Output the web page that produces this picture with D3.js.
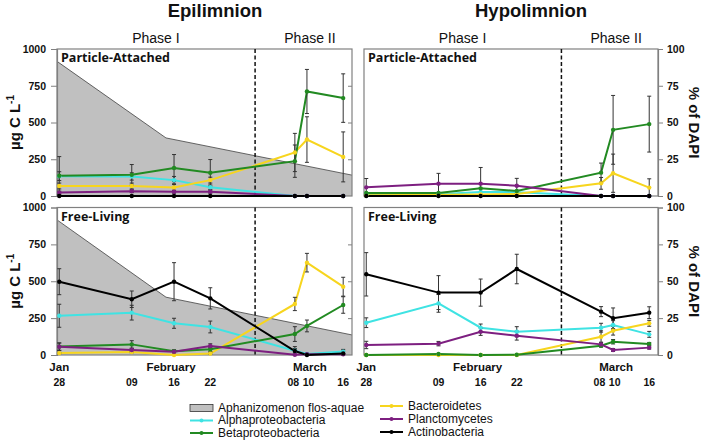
<!DOCTYPE html>
<html>
<head>
<meta charset="utf-8">
<script src="https://cdn.jsdelivr.net/npm/d3@7/dist/d3.min.js"></script>
<style>
  html, body { margin: 0; padding: 0; background: #fff; }
  svg { display: block; }
</style>
</head>
<body>
<script>
// ---------------- DATA ----------------
const dates = ["2009-01-28", "2009-02-09", "2009-02-16", "2009-02-22", "2009-03-08", "2009-03-10", "2009-03-16"];
const dayLabels = ["28", "09", "16", "22", "08", "10", "16"];
const monthLabels = ["Jan", "February", "March"];
const monthAnchors = ["2009-01-28", "2009-02-15T12:00", "2009-03-10T12:00"];
const phaseBoundary = "2009-03-01T10:00";
const phaseLabels = ["Phase I", "Phase II"];
const panelTitles = ["Epilimnion", "Hypolimnion"];
const fractionLabels = ["Particle-Attached", "Free-Living"];
const seriesNames = ["Alphaproteobacteria", "Betaproteobacteria", "Bacteroidetes", "Planctomycetes", "Actinobacteria"];
const areaName = "Aphanizomenon flos-aquae";
const leftTicks = [0, 250, 500, 750, 1000];
const rightTicks = [0, 25, 50, 75, 100];

// Aphanizomenon flos-aquae biomass (µg C L-1), epilimnion
const aphanDates = ["2009-01-27T15:00", "2009-02-14T16:00", "2009-03-17T11:00"];
const aphanPA = [916, 395, 142];
const aphanFL = [916, 392, 136];

// Epilimnion, particle-attached (µg C L-1)
const epiPA_alpha  = [135, 133, 108, 60, 0, 0, 0];
const epiPA_beta   = [138, 144, 190, 158, 237, 711, 666];
const epiPA_bact   = [68, 68, 58, 108, 296, 384, 266];
const epiPA_planc  = [23, 33, 29, 29, 0, 0, 0];
const epiPA_actino = [0, 0, 0, 0, 0, 0, 0];
const epiPA_alphaErr  = [30, 25, 25, 15, 0, 0, 0];
const epiPA_betaErr   = [130, 70, 92, 90, 110, 150, 165];
const epiPA_bactErr   = [20, 20, 20, 20, 130, 155, 170];
const epiPA_plancErr  = [10, 10, 10, 10, 0, 0, 0];
const epiPA_actinoErr = [0, 0, 0, 0, 0, 0, 0];

// Epilimnion, free-living (µg C L-1)
const epiFL_alpha  = [266, 287, 215, 190, 29, 7, 23];
const epiFL_beta   = [57, 72, 25, 39, 142, 197, 339];
const epiFL_bact   = [13, 20, 0, 10, 346, 626, 463];
const epiFL_planc  = [56, 34, 22, 61, 2, 5, 5];
const epiFL_actino = [497, 378, 497, 384, 27, 0, 11];
const epiFL_alphaErr  = [78, 50, 34, 40, 15, 5, 15];
const epiFL_betaErr   = [25, 25, 10, 15, 50, 40, 56];
const epiFL_bactErr   = [5, 5, 0, 5, 45, 63, 64];
const epiFL_plancErr  = [25, 10, 10, 15, 0, 0, 0];
const epiFL_actinoErr = [88, 56, 129, 72, 30, 10, 15];

// Hypolimnion, particle-attached (% of DAPI)
const hypPA_alpha  = [1.2, 1.2, 2.8, 2.6, 0, 0, 0];
const hypPA_beta   = [2, 2, 5.2, 3.4, 15.9, 45, 48.9];
const hypPA_bact   = [0.5, 0.8, 1, 1.4, 8.6, 15.5, 5.7];
const hypPA_planc  = [5.9, 8.4, 8.4, 7, 0, 0, 0];
const hypPA_actino = [0, 0, 0, 0, 0, 0, 0];
const hypPA_alphaErr  = [0, 0, 0, 0, 0, 0, 0];
const hypPA_betaErr   = [0, 0, 0, 0, 6.5, 23.4, 19];
const hypPA_bactErr   = [0, 0, 0, 0, 4, 13, 6];
const hypPA_plancErr  = [6, 7, 11, 5, 0, 0, 0];
const hypPA_actinoErr = [0, 0, 0, 0, 0, 0, 0];

// Hypolimnion, free-living (% of DAPI)
const hypFL_alpha  = [21.9, 35, 18.5, 15.8, 18.5, 20.3, 14];
const hypFL_beta   = [0, 0.7, 0, 0.2, 6.3, 9, 7.5];
const hypFL_bact   = [0, 0, 0, 0, 12.4, 16.5, 21.5];
const hypFL_planc  = [6.8, 7.7, 15.8, 13.1, 7.2, 3.4, 5];
const hypFL_actino = [54.7, 42.3, 42.3, 58.3, 29.4, 24.9, 28.7];
const hypFL_alphaErr  = [3.3, 6, 2.5, 3.4, 3, 3, 2];
const hypFL_betaErr   = [0, 0, 0, 0, 1, 1.5, 1];
const hypFL_bactErr   = [0, 0, 0, 0, 4, 3, 2];
const hypFL_plancErr  = [2.5, 1.5, 2.5, 3, 1.5, 1, 1];
const hypFL_actinoErr = [14.7, 11.5, 9.2, 10, 3.4, 7, 4];

// ---------------- STYLE ----------------
const colors = ["#3fe3e3", "#228a22", "#f7d51e", "#7d1f80", "#000000"];
const W = 705, H = 442;
const frameColor = "#808080";
const boldFont = "'Liberation Sans', Arial, sans-serif";

const parse = s => s.length > 10 ? d3.utcParse("%Y-%m-%dT%H:%M")(s) : d3.utcParse("%Y-%m-%d")(s);
const dateObjs = dates.map(parse);
const xDomain = [new Date(Date.UTC(2009, 0, 27, 15)), new Date(Date.UTC(2009, 2, 17, 11))];

const cols = [{x0: 57, x1: 352}, {x0: 364, x1: 658}];
const rows = [{y0: 49, y1: 196}, {y0: 207.5, y1: 355}];

const panels = [
  {c: 0, r: 0, max: 1000, aphan: aphanPA,
   vals: [epiPA_alpha, epiPA_beta, epiPA_bact, epiPA_planc, epiPA_actino],
   errs: [epiPA_alphaErr, epiPA_betaErr, epiPA_bactErr, epiPA_plancErr, epiPA_actinoErr]},
  {c: 0, r: 1, max: 1000, aphan: aphanFL,
   vals: [epiFL_alpha, epiFL_beta, epiFL_bact, epiFL_planc, epiFL_actino],
   errs: [epiFL_alphaErr, epiFL_betaErr, epiFL_bactErr, epiFL_plancErr, epiFL_actinoErr]},
  {c: 1, r: 0, max: 100, aphan: null,
   vals: [hypPA_alpha, hypPA_beta, hypPA_bact, hypPA_planc, hypPA_actino],
   errs: [hypPA_alphaErr, hypPA_betaErr, hypPA_bactErr, hypPA_plancErr, hypPA_actinoErr]},
  {c: 1, r: 1, max: 100, aphan: null,
   vals: [hypFL_alpha, hypFL_beta, hypFL_bact, hypFL_planc, hypFL_actino],
   errs: [hypFL_alphaErr, hypFL_betaErr, hypFL_bactErr, hypFL_plancErr, hypFL_actinoErr]}
];

const svg = d3.select("body").append("svg").attr("width", W).attr("height", H)
  .style("font-family", boldFont);

const drawOrder = [0, 2, 1, 3, 4];

panels.forEach((p, pi) => {
  const col = cols[p.c], row = rows[p.r];
  const x = d3.scaleUtc().domain(xDomain).range([col.x0, col.x1]);
  const y = d3.scaleLinear().domain([0, p.max]).range([row.y1, row.y0]);
  const g = svg.append("g");
  const clipId = "clip" + pi;
  g.append("clipPath").attr("id", clipId).append("rect")
    .attr("x", col.x0).attr("y", row.y0 - 2).attr("width", col.x1 - col.x0).attr("height", row.y1 - row.y0 + 6);

  if (p.aphan) {
    const ad = aphanDates.map((d, i) => ({d: parse(d), v: p.aphan[i]}));
    g.append("path").datum(ad)
      .attr("clip-path", `url(#${clipId})`)
      .attr("d", d3.area().x(d => x(d.d)).y0(y(0)).y1(d => y(d.v)))
      .attr("fill", "#c0c0c0").attr("stroke", "none");
    g.append("path").datum(ad)
      .attr("clip-path", `url(#${clipId})`)
      .attr("d", d3.line().x(d => x(d.d)).y(d => y(d.v)))
      .attr("fill", "none").attr("stroke", "#404040").attr("stroke-width", 0.8);
  }

  // frame
  g.append("rect").attr("x", col.x0).attr("y", row.y0)
    .attr("width", col.x1 - col.x0).attr("height", row.y1 - row.y0)
    .attr("fill", "none").attr("stroke", frameColor).attr("stroke-width", 1.2);

  // phase boundary
  const bx = x(parse(phaseBoundary));
  g.append("line").attr("x1", bx).attr("x2", bx).attr("y1", row.y0).attr("y2", row.y1)
    .attr("stroke", "#111").attr("stroke-width", 1.5).attr("stroke-dasharray", "4,2.5");

  // axes
  if (p.c === 0) {
    const ax = g.append("g").attr("transform", `translate(${col.x0},0)`)
      .call(d3.axisLeft(y).tickValues(leftTicks).tickSize(6).tickPadding(5).tickFormat(d3.format("d")));
    ax.select(".domain").attr("stroke", frameColor).attr("stroke-width", 1.2);
    ax.selectAll(".tick line").attr("stroke", frameColor);
    ax.selectAll("text").attr("font-size", 10.5).attr("font-weight", "bold").attr("font-family", boldFont).attr("fill", "#111");
    const rx = g.append("g").attr("transform", `translate(${col.x1},0)`)
      .call(d3.axisLeft(y).tickValues(leftTicks.slice(1, -1)).tickSize(4).tickFormat(""));
    rx.select(".domain").remove();
    rx.selectAll(".tick line").attr("stroke", frameColor);
  } else {
    const ax = g.append("g").attr("transform", `translate(${col.x1},0)`)
      .call(d3.axisRight(y).tickValues(rightTicks).tickSize(5).tickPadding(4).tickFormat(d3.format("d")));
    ax.select(".domain").attr("stroke", frameColor).attr("stroke-width", 1.2);
    ax.selectAll(".tick line").attr("stroke", frameColor);
    ax.selectAll("text").attr("font-size", 10.5).attr("font-weight", "bold").attr("font-family", boldFont).attr("fill", "#111");
  }

  // series lines
  drawOrder.forEach(si => {
    const pts = p.vals[si].map((v, i) => ({d: dateObjs[i], v}));
    g.append("path").datum(pts)
      .attr("d", d3.line().x(d => x(d.d)).y(d => y(d.v)))
      .attr("fill", "none").attr("stroke", colors[si]).attr("stroke-width", 2);
  });
  // error bars
  drawOrder.forEach(si => {
    const pts = p.vals[si].map((v, i) => ({d: dateObjs[i], v, e: p.errs[si][i]})).filter(d => d.e > 0);
    const eg = g.append("g").attr("stroke", "#333").attr("stroke-width", 1);
    pts.forEach(d => {
      const cx = x(d.d);
      const yt = y(Math.min(p.max, d.v + d.e)), yb = y(Math.max(0, d.v - d.e));
      eg.append("line").attr("x1", cx).attr("x2", cx).attr("y1", yt).attr("y2", yb);
      eg.append("line").attr("x1", cx - 2).attr("x2", cx + 2).attr("y1", yt).attr("y2", yt);
      eg.append("line").attr("x1", cx - 2).attr("x2", cx + 2).attr("y1", yb).attr("y2", yb);
    });
  });
  // markers
  drawOrder.forEach(si => {
    g.append("g").selectAll("circle")
      .data(p.vals[si].map((v, i) => ({d: dateObjs[i], v})))
      .join("circle")
      .attr("cx", d => x(d.d)).attr("cy", d => y(d.v)).attr("r", 2.2)
      .attr("fill", colors[si]);
  });

  // fraction label
  g.append("text").attr("x", col.x0 + 4).attr("y", row.y0 + 13)
    .attr("font-family", "'Open Sans', sans-serif").attr("font-weight", "bold")
    .attr("font-size", 12.5).attr("fill", "#111")
    .text(fractionLabels[p.r]);

  // phase labels (top row)
  if (p.r === 0) {
    const px = [x(parse("2009-02-13T00:00")), x(parse("2009-03-10T12:00"))];
    phaseLabels.forEach((t, i) => {
      svg.append("text").attr("x", px[i]).attr("y", 43).attr("text-anchor", "middle")
        .attr("font-size", 14).attr("fill", "#111").text(t);
    });
  }

  // x labels (bottom row)
  if (p.r === 1) {
    monthLabels.forEach((m, i) => {
      svg.append("text").attr("x", x(parse(monthAnchors[i]))).attr("y", 371)
        .attr("text-anchor", "middle").attr("font-size", 11.5).attr("font-weight", "bold")
        .attr("fill", "#111").text(m);
    });
    const xs = dateObjs.map(d => x(d));
    dayLabels.forEach((t, i) => {
      // nudge apart labels whose dates are very close together
      let dx = 0;
      if (i > 0 && xs[i] - xs[i - 1] < 15) dx += 1.6;
      if (i < xs.length - 1 && xs[i + 1] - xs[i] < 15) dx -= 1.6;
      svg.append("text").attr("x", xs[i] + dx).attr("y", 386)
        .attr("text-anchor", "middle").attr("font-size", 10.5).attr("font-weight", "bold")
        .attr("fill", "#111").text(t);
    });
  }
});

// titles
svg.append("text").attr("x", 215).attr("y", 17).attr("text-anchor", "middle")
  .attr("font-size", 18.5).attr("font-weight", "bold").attr("fill", "#111").text(panelTitles[0]);
svg.append("text").attr("x", 531).attr("y", 17).attr("text-anchor", "middle")
  .attr("font-size", 18.5).attr("font-weight", "bold").attr("fill", "#111").text(panelTitles[1]);

// y axis titles
rows.forEach(row => {
  const cy = (row.y0 + row.y1) / 2;
  const t = svg.append("text").attr("transform", `translate(20,${cy}) rotate(-90)`)
    .attr("text-anchor", "middle").attr("font-size", 15).attr("font-weight", "bold").attr("fill", "#111");
  t.append("tspan").text("µg C L");
  t.append("tspan").attr("dy", -6).attr("font-size", 10).text("-1");
  svg.append("text").attr("transform", `translate(689,${cy}) rotate(90)`)
    .attr("text-anchor", "middle").attr("font-size", 15).attr("font-weight", "bold").attr("fill", "#111")
    .text("% of DAPI");
});

// legend
const lgFont = "'Liberation Sans Narrow', 'Arial Narrow', sans-serif";
const lg = svg.append("g").style("font-family", lgFont);
lg.append("rect").attr("x", 190).attr("y", 404.5).attr("width", 23).attr("height", 7)
  .attr("fill", "#c0c0c0").attr("stroke", "#333").attr("stroke-width", 0.8);
lg.append("text").attr("x", 218).attr("y", 411.5).attr("font-size", 12).attr("fill", "#111").text(areaName);
const legendItems = [
  {si: 0, x: 190, y: 420.5}, {si: 1, x: 190, y: 433},
  {si: 2, x: 380, y: 406}, {si: 3, x: 380, y: 419}, {si: 4, x: 380, y: 432}
];
legendItems.forEach(it => {
  lg.append("line").attr("x1", it.x).attr("x2", it.x + 23).attr("y1", it.y).attr("y2", it.y)
    .attr("stroke", colors[it.si]).attr("stroke-width", 2);
  lg.append("circle").attr("cx", it.x + 11.5).attr("cy", it.y).attr("r", 2).attr("fill", colors[it.si]);
  lg.append("text").attr("x", it.x + 28).attr("y", it.y + 3.5).attr("font-size", 12)
    .attr("fill", "#111").text(seriesNames[it.si]);
});
</script>
</body>
</html>
